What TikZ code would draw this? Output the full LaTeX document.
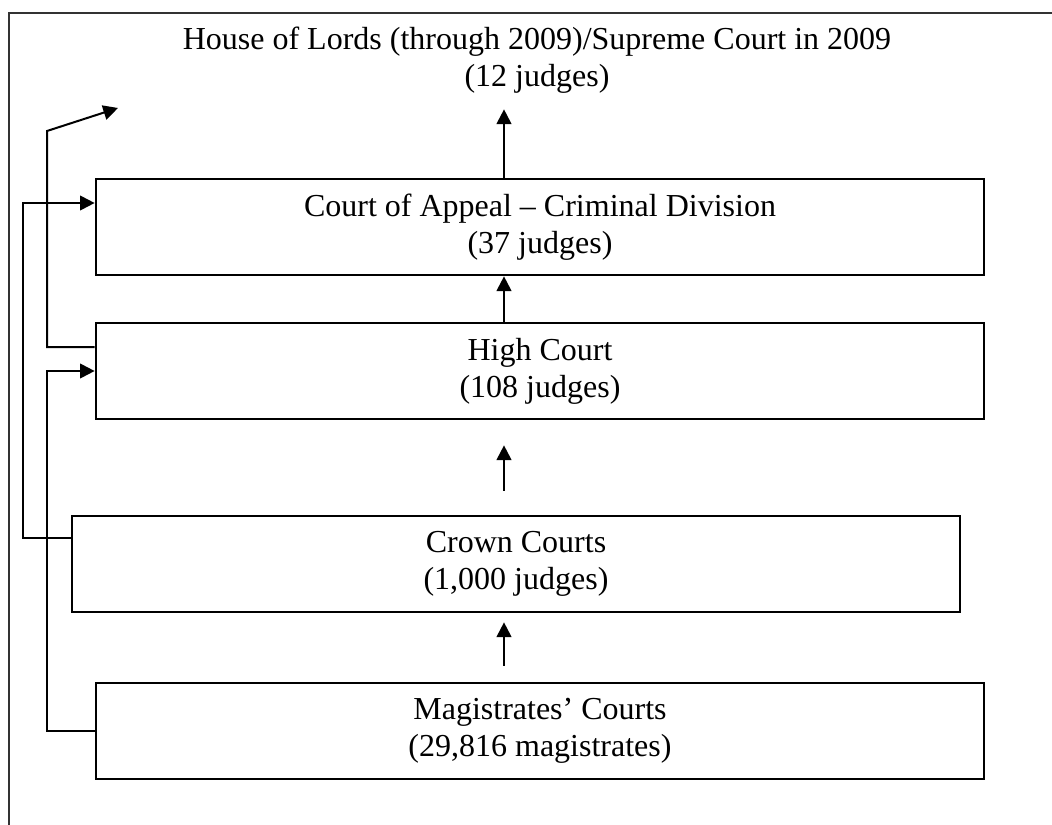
\documentclass[tikz,border=0pt]{standalone}
\usepackage{fontspec}
\setmainfont{Liberation Serif}
\usetikzlibrary{positioning,calc,arrows.meta}

\begin{document}
\begin{tikzpicture}[x=0.75pt,y=0.75pt,yscale=-1,xscale=1,
    court/.style={draw,line width=2pt,minimum width=666pt,minimum height=72pt,align=center,inner sep=0pt,font=\fontsize{24}{27.75}\selectfont},
    arr/.style={-{Triangle[length=11pt,width=11pt]},line width=1.5pt}]
        \useasboundingbox (0,0) rectangle (1052,824);
        % outer frame
        \draw [line width=1.2pt,black!80]  (9,830) -- (9,13) -- (1060,13) ;

        % Court nodes
        \node [court,draw=none] (lords) at (537,60) {House of Lords (through 2009)/Supreme Court in 2009\\(12 judges)};
        \node [court] (appeal) at (540,227) {Court of Appeal – Criminal Division\\(37 judges)};
        \node [court] (high) at (540,371) {High Court\\(108 judges)};
        \node [court] (crown) at (516,564) {Crown Courts\\(1,000 judges)};
        \node [court] (mag) at (540,731) {Magistrates’ Courts\\(29,816 magistrates)};

        % lanes
        \coordinate (spine) at (504,0);
        \coordinate (laneA) at (23,0);
        \coordinate (laneB) at (47,0);
        \coordinate (appealin) at ($(appeal.west)+(0,-24)$);
        \coordinate (highout) at ($(high.west)+(0,-24)$);
        \coordinate (crownout) at ($(crown.west)+(0,-26)$);
        \coordinate (lordsfree) at (118,108);

        % Straight arrows
        \draw [arr] (spine |- appeal.north) -- (spine |- lords.south);
        \draw [arr] (spine |- high.north) -- (spine |- appeal.south);
        \draw [arr] ($(spine |- crown.north)+(0,-24)$) -- ($(spine |- high.south)+(0,25)$);
        \draw [arr] ($(spine |- mag.north)+(0,-16)$) -- ($(spine |- crown.south)+(0,9)$);

        % Side arrows
        \draw [arr] (highout) -| ($(laneB)+(0,131)$) -- (lordsfree);
        \draw [arr] (crownout) -| (laneA |- appealin) -- (appealin);
        \draw [arr] (mag.west) -| (laneB |- high.west) -- (high.west);
    \end{tikzpicture}
\end{document}
